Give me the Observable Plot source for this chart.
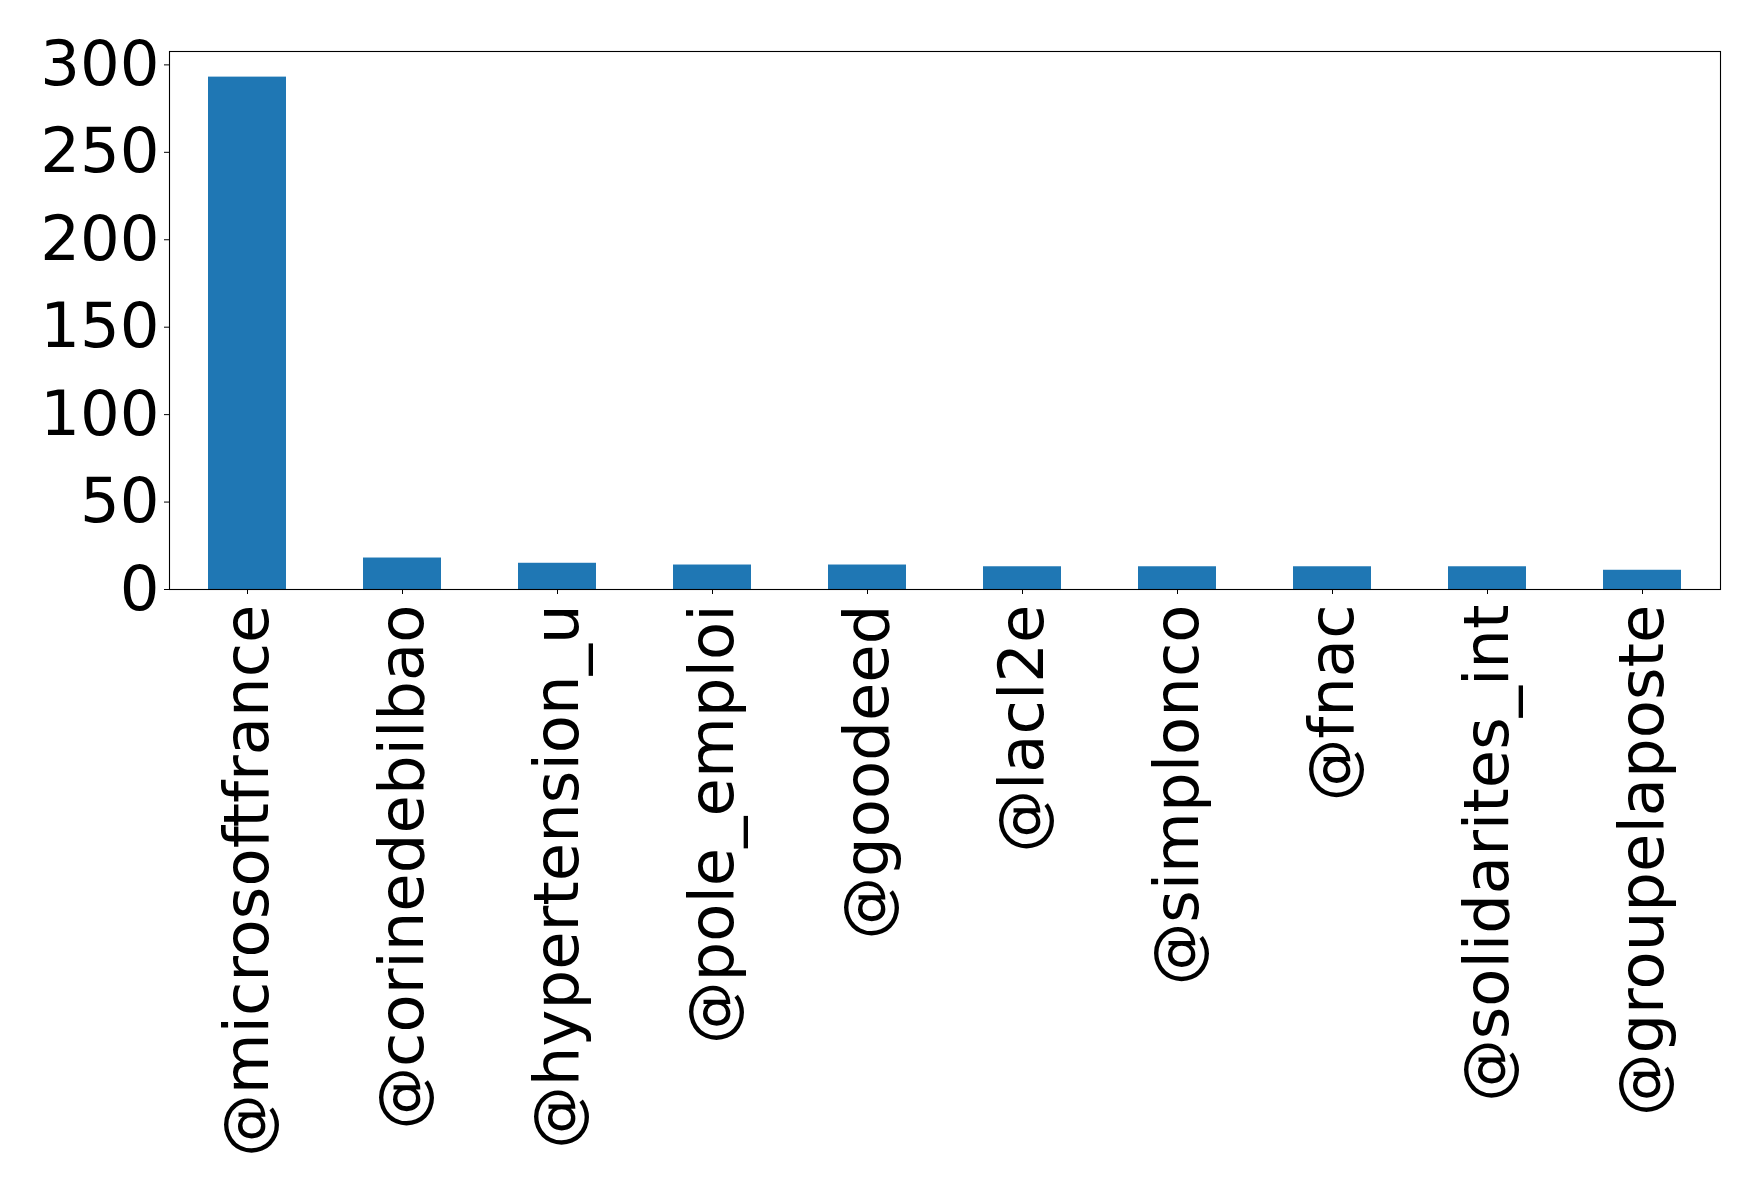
<!DOCTYPE html>
<html>
<head>
<meta charset="utf-8">
<script src="https://cdn.jsdelivr.net/npm/d3@7"></script>
<script src="https://cdn.jsdelivr.net/npm/@observablehq/plot@0.6"></script>
<style>
  html, body { margin: 0; padding: 0; background: #fff; }
</style>
</head>
<body>
<div id="chart"></div>
<script>
const categories = ["@microsoftfrance","@corinedebilbao","@hypertension_u","@pole_emploi","@goodeed","@lacl2e","@simplonco","@fnac","@solidarites_int","@groupelaposte"];
const values = [293, 18, 15, 14, 14, 13, 13, 13, 13, 11];
const yTicks = [0, 50, 100, 150, 200, 250, 300];

const data = categories.map((c, i) => ({name: c, count: values[i]}));

const chart = Plot.plot({
  width: 1759,
  height: 1191,
  marginLeft: 169,
  marginRight: 39,
  marginTop: 51,
  marginBottom: 602,
  style: {fontFamily: "DejaVu Sans", fontSize: "62.5px", color: "black", background: "white"},
  x: {domain: categories, paddingInner: 0.5, paddingOuter: 0.25, label: null},
  y: {domain: [0, d3.max(values) * 1.05], label: null},
  marks: [
    Plot.barY(data, {x: "name", y: "count", fill: "#1f77b4"}),
    Plot.axisX({tickRotate: -90, tickSize: 5, tickPadding: 10, fontSize: 62.5, label: null}),
    Plot.axisY({ticks: yTicks, tickSize: 5, tickPadding: 5, fontSize: 62.5, label: null}),
    Plot.frame({stroke: "black", strokeWidth: 1.1})
  ]
});
document.getElementById("chart").appendChild(chart);
</script>
</body>
</html>
